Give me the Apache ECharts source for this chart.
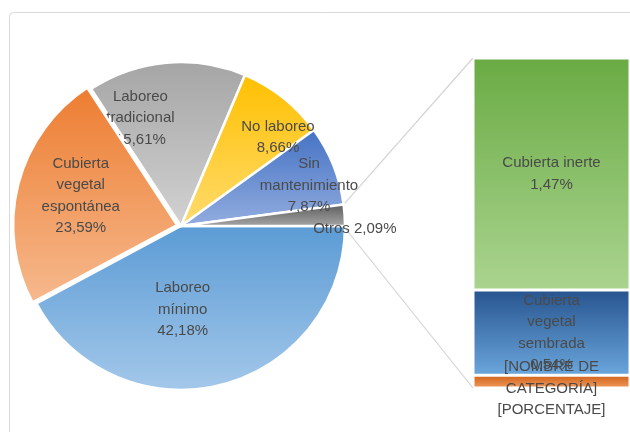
<!DOCTYPE html>
<html lang="es">
<head>
    <meta charset="UTF-8">
    <title>Tipos de mantenimiento del suelo</title>
    <script src="https://cdn.jsdelivr.net/npm/echarts@6/dist/echarts.min.js"></script>
</head>
<body style="margin: 0; background: #fff">
<div id="chart" style="width: 630px; height: 432px"></div>
<script>
    // pie: categories and percentages
    let pieNames = ['Laboreo\nmínimo', 'Cubierta\nvegetal\nespontánea', 'Laboreo\ntradicional', 'No laboreo', 'Sin\nmantenimiento', 'Otros'];
    let pieValues = [42.18, 23.59, 15.61, 8.66, 7.87, 2.09];
    // bar: breakdown of "Otros" (top to bottom)
    let barNames = ['Cubierta inerte', 'Cubierta\nvegetal\nsembrada', '[NOMBRE DE\nCATEGORÍA]'];
    let barValues = [1.47, 0.54, 0.08];

    // colours (top, bottom of the gradient)
    let pieColors = [['#5b9bd5', '#a4c8ea'], ['#ed7d31', '#f6b98e'], ['#a5a5a5', '#d2d2d2'],
        ['#ffc000', '#ffdb6e'], ['#4472c4', '#93addf'], ['#5a5a5a', '#a8a8a8']];
    let barColors = [['#6aab44', '#aad48f'], ['#27548f', '#6aa6dc'], ['#d0621a', '#f09a5a']];
    // label nudges
    let pieShift = [[-19, 1], [-14, -8], [-33, -23], [44, -22], [49, -9], [89, 8]];
    let barShift = [[0, 0], [0, 0], [0, 7]];

    let font = 'Liberation Sans';
    let fmt = v => v.toFixed(2).replace('.', ',') + '%';
    let grad = c => new echarts.graphic.LinearGradient(0, 0, 0, 1, [{offset: 0, color: c[0]}, {offset: 1, color: c[1]}]);

    let chart = echarts.init(document.getElementById('chart'));
    let W = 630, H = 432;
    let cx = 181, cy = 226, R = 164;
    let gridLeft = 473, gridTop = 58, gridBottom = 44;
    let total = pieValues.reduce((a, b) => a + b, 0);
    let otrosTotal = barValues.reduce((a, b) => a + b, 0);
    let a = pieValues[pieValues.length - 1] / total * 2 * Math.PI;

    let barSeries = [];
    for (let i = barNames.length - 1; i >= 0; i--) {
        barSeries.push({
            type: 'bar',
            stack: 'otros',
            barWidth: '100%',
            data: [barValues[i]],
            itemStyle: {color: grad(barColors[i]), borderColor: '#fff', borderWidth: 1.5},
            label: {
                show: true,
                position: 'inside',
                offset: barShift[i],
                color: '#4a4a4a',
                fontFamily: font,
                fontSize: 15,
                lineHeight: 21.5,
                formatter: barNames[i] + '\n' + (barNames[i].startsWith('[') ? '[PORCENTAJE]' : fmt(barValues[i]))
            },
            silent: true
        });
    }

    let option = {
        animation: false,
        graphic: [{
            type: 'rect', left: 9, top: 12, z: -10,
            shape: {width: 700, height: 500, r: 4},
            style: {fill: '#fff', stroke: '#d9d9d9', lineWidth: 1}
        }, {
            // connector lines from the "Otros" slice to the bar
            type: 'line', z: 1,
            shape: {x1: cx + R * Math.cos(a), y1: cy - R * Math.sin(a), x2: gridLeft, y2: gridTop},
            style: {stroke: '#d4d4d4', lineWidth: 1.2}
        }, {
            type: 'line', z: 1,
            shape: {x1: cx + R, y1: cy + 2, x2: gridLeft, y2: H - gridBottom},
            style: {stroke: '#d4d4d4', lineWidth: 1.2}
        }],
        grid: {left: gridLeft, top: gridTop, width: 162, bottom: gridBottom},
        xAxis: {type: 'category', data: ['Otros'], show: false},
        yAxis: {type: 'value', min: 0, max: otrosTotal, show: false},
        series: [{
            type: 'pie',
            center: [cx, cy],
            radius: R,
            startAngle: 0,
            clockwise: true,
            selectedMode: 'single',
            selectedOffset: 4,
            silent: true,
            data: pieNames.map((n, i) => ({
                name: n, value: pieValues[i], selected: i === 1,
                itemStyle: {color: grad(pieColors[i])}
            })),
            itemStyle: {borderColor: '#fff', borderWidth: 2.5},
            label: {
                position: 'inside',
                color: '#4a4a4a',
                fontFamily: font,
                fontSize: 15,
                lineHeight: 21.5,
                formatter: p => p.name + (p.dataIndex === pieNames.length - 1 ? ' ' : '\n') + fmt(p.value)
            },
            labelLine: {show: false},
            labelLayout: p => ({dx: pieShift[p.dataIndex][0], dy: pieShift[p.dataIndex][1]})
        }].concat(barSeries)
    };
    chart.setOption(option);
</script>
</body>
</html>
